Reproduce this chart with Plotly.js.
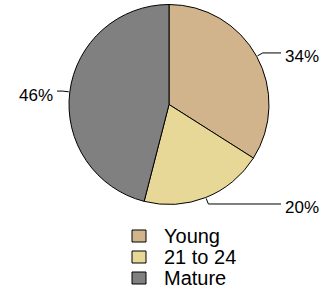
<!DOCTYPE html>
<html><head><meta charset="utf-8">
<script src="https://cdn.plot.ly/plotly-3.0.1.min.js"></script>
<style>html,body{margin:0;padding:0;background:#fff}#chart{width:328px;height:290px}</style>
</head><body><div id="chart"></div>
<script>
const categories = ['Young', '21 to 24', 'Mature'];
const values = [34, 20, 46];
const pctLabels = ['34%', '20%', '46%'];
const colors = ['#D2B48C', '#E8D898', '#808080'];

const W = 328, H = 290;
const cx = 169, cy = 104.5, r = 100;
const px = x => x / W, py = y => 1 - y / H;
const FONT = 'Liberation Sans, Arial, Helvetica, sans-serif';

const total = values.reduce((a, b) => a + b, 0);
const shapes = [], annotations = [];
let cum = 0;
values.forEach((v, i) => {
  const mid = (cum + v / 2) / total * 2 * Math.PI; cum += v;
  const sx = Math.sin(mid), sy = -Math.cos(mid);
  const x0 = cx + r * 1.01 * sx, y0 = cy + r * 1.01 * sy;
  const x1 = cx + r * 1.07 * sx, y1 = cy + r * 1.07 * sy;
  const right = sx >= 0;
  const x2 = cx + (right ? 1 : -1) * r * 1.12;
  shapes.push({type: 'path', xref: 'paper', yref: 'paper',
    path: `M${px(x0)},${py(y0)} L${px(x1)},${py(y1)} L${px(x2)},${py(y1)}`,
    line: {color: '#000', width: 1}});
  annotations.push({xref: 'paper', yref: 'paper', x: px(x2 + (right ? 2 : -2)), y: py(y1 + 4),
    xanchor: right ? 'left' : 'right', yanchor: 'middle', showarrow: false,
    text: pctLabels[i], font: {family: FONT, size: 17, color: '#000'}});
});

// legend
categories.forEach((c, i) => {
  const yc = 236 + 21 * i;
  shapes.push({type: 'rect', xref: 'paper', yref: 'paper',
    x0: px(132), x1: px(146), y0: py(yc + 6), y1: py(yc - 6),
    fillcolor: colors[i], line: {color: '#000', width: 1}});
  annotations.push({xref: 'paper', yref: 'paper', x: px(162), y: py(yc), xanchor: 'left', yanchor: 'middle',
    showarrow: false, text: c, font: {family: FONT, size: 20, color: '#000'}});
});

const trace = {
  type: 'pie', labels: categories, values: values, sort: false, direction: 'clockwise', rotation: 0,
  textinfo: 'none', hoverinfo: 'none', showlegend: false,
  marker: {colors: colors, line: {color: '#000', width: 1}},
  domain: {x: [(cx - (W - cx)) / W, 1], y: [py(cy + r), py(cy - r)]}
};

Plotly.newPlot('chart', [trace], {
  width: W, height: H, margin: {l: 0, r: 0, t: 0, b: 0},
  paper_bgcolor: '#fff', showlegend: false, shapes: shapes, annotations: annotations
}, {displayModeBar: false, staticPlot: true});
</script></body></html>
